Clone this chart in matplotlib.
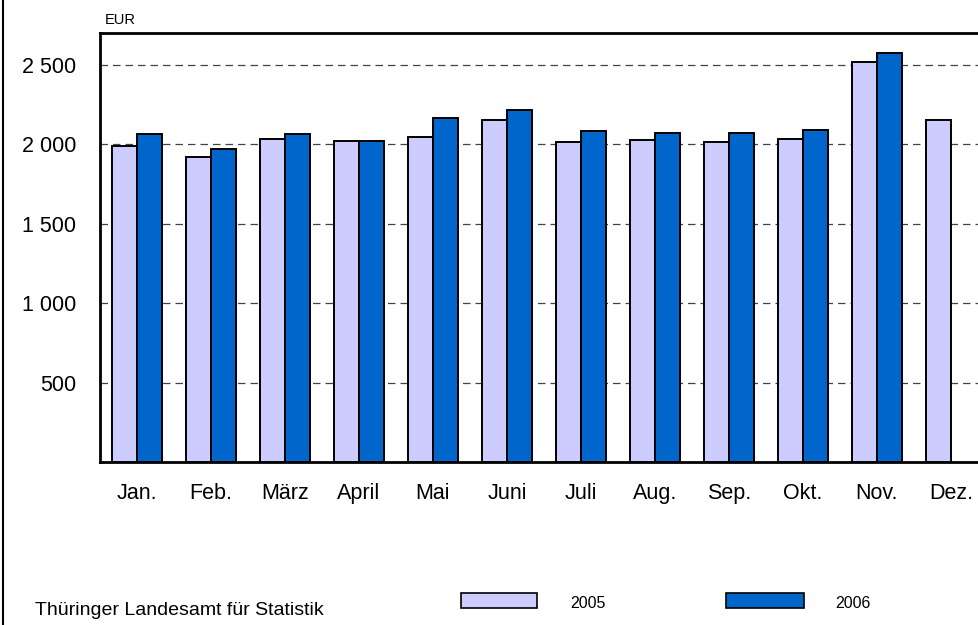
import numpy as np
import matplotlib
import matplotlib.pyplot as plt
from matplotlib.patches import Rectangle
from matplotlib.lines import Line2D

plt.rcParams["font.family"] = ["Liberation Sans", "DejaVu Sans"]

# --- Data (EUR) ---
months = ["Jan.", "Feb.", "März", "April", "Mai", "Juni", "Juli", "Aug.", "Sep.", "Okt.", "Nov.", "Dez."]
values_2005 = [1988, 1919, 2033, 2023, 2044, 2150, 2013, 2025, 2013, 2033, 2519, 2152]
values_2006 = [2062, 1969, 2067, 2021, 2163, 2213, 2081, 2069, 2071, 2090, 2571]
y_ticks = [500, 1000, 1500, 2000, 2500]
y_tick_labels = ["500", "1 000", "1 500", "2 000", "2 500"]

C2005 = "#CCCCFF"
C2006 = "#0066CC"

W, H = 979, 625
fig = plt.figure(figsize=(W / 100, H / 100), dpi=100)
ax = fig.add_axes([100 / W, 1 - 462 / H, 888 / W, 429 / H])

x = np.arange(len(months))
bw = 0.335
ax.bar(x[:len(values_2005)] - bw / 2, values_2005, bw, color=C2005,
       edgecolor="black", linewidth=1.4, zorder=3)
ax.bar(x[:len(values_2006)] + bw / 2, values_2006, bw, color=C2006,
       edgecolor="black", linewidth=1.4, zorder=3)

ax.set_xlim(-0.5, 11.5)
ax.set_ylim(0, 2700)
ax.set_yticks(y_ticks)
ax.set_yticklabels(y_tick_labels, fontsize=15.5)
ax.set_xticks(x)
ax.set_xticklabels(months, fontsize=15.5)
ax.tick_params(axis="both", length=0)
ax.tick_params(axis="y", pad=17)
ax.tick_params(axis="x", pad=15)
ax.yaxis.grid(True, linestyle=(0, (6, 4)), color="#444444", linewidth=0.9, zorder=0)
for s in ax.spines.values():
    s.set_linewidth(2)

fig.text(105 / W, 1 - 20 / H, "EUR", fontsize=10.5, va="center", ha="left")

# frame line on the left edge of the picture
fig.add_artist(Line2D([3 / W, 3 / W], [0, 1], color="black", linewidth=1.5))

# footer: source and legend
fig.text(35 / W, 1 - 615 / H, "Thüringer Landesamt für Statistik", fontsize=14,
         va="baseline", ha="left")
fig.add_artist(Rectangle((461 / W, 1 - 608 / H), 76 / W, 15 / H, facecolor=C2005,
                         edgecolor="black", linewidth=1.2, transform=fig.transFigure))
fig.text(570 / W, 1 - 604 / H, "2005", fontsize=11.5, va="center", ha="left")
fig.add_artist(Rectangle((726 / W, 1 - 608 / H), 78 / W, 15 / H, facecolor=C2006,
                         edgecolor="black", linewidth=1.2, transform=fig.transFigure))
fig.text(835 / W, 1 - 604 / H, "2006", fontsize=11.5, va="center", ha="left")

fig.savefig("out.png", dpi=100)
